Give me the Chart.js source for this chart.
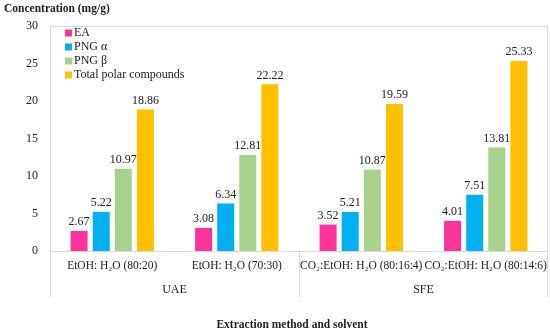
<!DOCTYPE html>
<html>
<head>
<meta charset="utf-8">
<script src="https://cdn.jsdelivr.net/npm/chart.js@4.4.1/dist/chart.umd.min.js"></script>
<style>
  html, body { margin: 0; padding: 0; background: #ffffff; }
  #wrap { width: 550px; height: 333px; position: relative; }
</style>
</head>
<body>
<div id="wrap"><canvas id="chart"></canvas></div>
<script>
// categories and groups
const categories = [
    'EtOH: H\u2082O (80:20)',
    'EtOH: H\u2082O (70:30)',
    'CO\u2082:EtOH: H\u2082O (80:16:4)',
    'CO\u2082:EtOH: H\u2082O (80:14:6)'
];
const groups = ['UAE', 'SFE'];

// series values (mg/g)
const eaValues = [2.67, 3.08, 3.52, 4.01];
const pngAlphaValues = [5.22, 6.34, 5.21, 7.51];
const pngBetaValues = [10.97, 12.81, 10.87, 13.81];
const totalValues = [18.86, 22.22, 19.59, 25.33];

const yTicks = [0, 5, 10, 15, 20, 25, 30];

const FONT = '"Liberation Serif", "Times New Roman", serif';
const TEXT = '#222222';

const datasets = [
    { label: 'EA', data: eaValues, backgroundColor: '#FF3399' },
    { label: 'PNG \u03B1', data: pngAlphaValues, backgroundColor: '#00B0F0' },
    { label: 'PNG \u03B2', data: pngBetaValues, backgroundColor: '#A9D18E' },
    { label: 'Total polar compounds', data: totalValues, backgroundColor: '#FFC000' }
].map(ds => Object.assign(ds, {
    categoryPercentage: 0.71,
    barPercentage: 0.77,
    borderWidth: 0
}));

// frame, group labels, legend, titles and value labels
const extrasPlugin = {
    id: 'extras',
    beforeDatasetsDraw(chart) {
        const { ctx, chartArea } = chart;
        ctx.save();
        ctx.strokeStyle = '#d9d9d9';
        ctx.lineWidth = 1;
        ctx.strokeRect(chartArea.left + 0.5, chartArea.top + 0.5,
            chartArea.right - chartArea.left - 1, chartArea.bottom - chartArea.top);
        ctx.restore();
    },
    afterDraw(chart) {
        const { ctx, chartArea } = chart;
        const x = chart.scales.x;
        ctx.save();

        // group separators and labels
        const step = (chartArea.right - chartArea.left) / categories.length;
        ctx.strokeStyle = '#d9d9d9';
        ctx.lineWidth = 1;
        [0, 2, 4].forEach(i => {
            const px = Math.round(chartArea.left + step * i) + (i === 4 ? -0.5 : 0.5);
            ctx.beginPath();
            ctx.moveTo(px, chartArea.bottom);
            ctx.lineTo(px, 297);
            ctx.stroke();
        });
        ctx.fillStyle = TEXT;
        ctx.font = '12px ' + FONT;
        ctx.textAlign = 'center';
        ctx.textBaseline = 'middle';
        groups.forEach((g, i) => {
            const cx = (x.getPixelForValue(i * 2) + x.getPixelForValue(i * 2 + 1)) / 2;
            ctx.fillText(g, cx, 290);
        });

        // value labels
        ctx.font = '12px ' + FONT;
        ctx.textBaseline = 'bottom';
        chart.data.datasets.forEach((ds, di) => {
            chart.getDatasetMeta(di).data.forEach((bar, i) => {
                ctx.fillText(ds.data[i].toFixed(2), bar.x, bar.y - 3);
            });
        });

        // legend
        ctx.textAlign = 'left';
        ctx.textBaseline = 'middle';
        ctx.font = '12px ' + FONT;
        chart.data.datasets.forEach((ds, di) => {
            const ly = 33 + di * 14;
            ctx.fillStyle = ds.backgroundColor;
            ctx.fillRect(65, ly - 3.5, 7, 7);
            ctx.fillStyle = TEXT;
            ctx.fillText(ds.label, 74, ly);
        });

        // axis titles
        ctx.font = 'bold 11.5px ' + FONT;
        ctx.textBaseline = 'middle';
        ctx.fillText('Concentration (mg/g)', 4, 9);
        ctx.textAlign = 'center';
        ctx.fillText('Extraction method and solvent', 292, 325);
        ctx.restore();
    }
};

new Chart(document.getElementById('chart'), {
    type: 'bar',
    data: { labels: categories, datasets: datasets },
    plugins: [extrasPlugin],
    options: {
        responsive: true,
        maintainAspectRatio: false,
        animation: false,
        layout: { padding: { top: 26, right: 2, left: 0, bottom: 0 } },
        plugins: {
            legend: { display: false },
            tooltip: { enabled: false }
        },
        scales: {
            x: {
                grid: { display: false, drawTicks: false },
                border: { display: false },
                ticks: {
                    color: TEXT,
                    font: { family: FONT, size: 11.5 },
                    padding: 8,
                    maxRotation: 0,
                    autoSkip: false
                },
                afterFit(scale) {
                    scale.height = 82;
                    scale.paddingLeft = 0;
                    scale.paddingRight = 0;
                }
            },
            y: {
                min: 0,
                max: 30,
                grid: { display: false, drawTicks: false },
                border: { display: false },
                afterBuildTicks(scale) {
                    scale.ticks = yTicks.map(v => ({ value: v }));
                },
                ticks: {
                    color: TEXT,
                    font: { family: FONT, size: 12 },
                    padding: 12
                },
                afterFit(scale) { scale.width = 50; }
            }
        }
    }
});
</script>
</body>
</html>
